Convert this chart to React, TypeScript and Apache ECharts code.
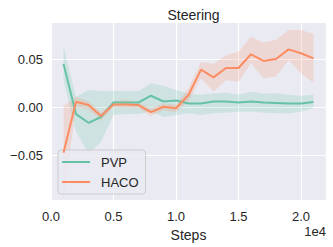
import React, { useEffect, useRef } from "react";
import * as echarts from "echarts";

const steps = [1000, 2000, 3000, 4000, 5000, 6000, 7000, 8000, 9000, 10000, 11000, 12000, 13000, 14000, 15000, 16000, 17000, 18000, 19000, 20000, 21000];

const pvpMean = [0.045, -0.007, -0.016, -0.010, 0.005, 0.005, 0.005, 0.012, 0.006, 0.007, 0.004, 0.004, 0.006, 0.006, 0.005, 0.006, 0.005, 0.0045, 0.004, 0.004, 0.0055];
const pvpUpper = [0.063, 0.011, 0.018, 0.017, 0.017, 0.017, 0.017, 0.025, 0.022, 0.018, 0.014, 0.013, 0.0145, 0.015, 0.013, 0.016, 0.014, 0.0145, 0.013, 0.012, 0.013];
const pvpLower = [0.028, -0.025, -0.048, -0.036, -0.008, -0.007, -0.007, -0.004, -0.010, -0.008, -0.006, -0.008, -0.006, -0.0056, -0.0045, -0.0045, -0.0056, -0.006, -0.006, -0.0045, -0.001];

const hacoMean = [-0.047, 0.0058, 0.0024, -0.009, 0.003, 0.003, 0.0024, -0.005, 0.0006, -0.001, 0.0127, 0.039, 0.031, 0.0407, 0.0407, 0.0549, 0.048, 0.050, 0.060, 0.056, 0.0507];
const hacoUpper = [0.001, 0.011, 0.006, -0.005, 0.006, 0.008, 0.005, -0.001, 0.004, 0.003, 0.020, 0.047, 0.045, 0.054, 0.0575, 0.073, 0.067, 0.070, 0.080, 0.080, 0.076];
const hacoLower = [-0.095, 0.0, -0.002, -0.014, 0.0, -0.001, -0.001, -0.009, -0.003, -0.005, 0.006, 0.030, 0.016, 0.028, 0.0265, 0.0455, 0.030, 0.032, 0.049, 0.035, 0.0255];

const GREEN = "#66c2a5";
const ORANGE = "#fc8d62";
const TEXT = "#262626";
const FONT = "'Liberation Sans', Arial, sans-serif";

function band(name: string, lower: number[], upper: number[], color: string) {
  const data = steps.map((s, i) => [s, lower[i], upper[i]]);
  return {
    name: name + "_band",
    type: "custom",
    silent: true,
    z: 1,
    encode: { x: 0, y: [1, 2] },
    data,
    renderItem: (params: any, api: any) => {
      if (params.dataIndex !== 0) return { type: "group", children: [] };
      const top = data.map((d) => api.coord([d[0], d[2]]));
      const bottom = data.map((d) => api.coord([d[0], d[1]])).reverse();
      return {
        type: "polygon",
        shape: { points: top.concat(bottom) },
        style: { fill: color, opacity: 0.2, stroke: "none" },
      };
    },
  };
}

export default function App() {
  const ref = useRef<HTMLDivElement>(null);
  useEffect(() => {
    if (!ref.current) return;
    const chart = echarts.init(ref.current, null, { renderer: "svg" });
    chart.setOption({
      animation: false,
      backgroundColor: "#ffffff",
      title: {
        text: "Steering",
        left: 188.5,
        top: 3,
        textAlign: "center",
        textStyle: { fontSize: 14, fontWeight: "normal", color: TEXT, fontFamily: FONT },
      },
      grid: { left: 51, right: 7, top: 22, bottom: 47, backgroundColor: "#eaeaf2", show: true, borderWidth: 0 },
      xAxis: {
        type: "value",
        min: 0,
        max: 22000,
        interval: 5000,
        name: "Steps",
        nameLocation: "middle",
        nameGap: 26,
        nameTextStyle: { fontSize: 14, color: TEXT, fontFamily: FONT },
        axisLine: { show: false },
        axisTick: { show: false },
        splitLine: { lineStyle: { color: "#ffffff", width: 1.2 } },
        axisLabel: {
          fontSize: 13,
          color: TEXT,
          fontFamily: FONT,
          margin: 10,
          showMaxLabel: false,
          formatter: (v: number) => (v / 10000).toFixed(1),
        },
      },
      yAxis: {
        type: "value",
        min: -0.0959,
        max: 0.0883,
        splitNumber: 4,
        axisLine: { show: false },
        axisTick: { show: false },
        splitLine: { lineStyle: { color: "#ffffff", width: 1.2 } },
        axisLabel: {
          fontSize: 13,
          color: TEXT,
          fontFamily: FONT,
          margin: 8,
          showMinLabel: false,
          showMaxLabel: false,
          formatter: (v: number) => {
            const r = Math.round(v * 100) / 100;
            if (Math.abs(r) < 1e-9) return "0.00";
            return (r < 0 ? "\u2212" : "") + Math.abs(r).toFixed(2);
          },
        },
      },
      legend: {
        orient: "vertical",
        left: 58,
        top: 150,
        data: ["PVP", "HACO"],
        icon: "rect",
        itemWidth: 28,
        itemHeight: 2,
        itemGap: 6,
        padding: [5, 7, 5, 4],
        backgroundColor: "rgba(234,234,242,0.8)",
        borderColor: "#cccccc",
        borderWidth: 1,
        borderRadius: 3,
        textStyle: { fontSize: 13, color: TEXT, fontFamily: FONT, lineHeight: 14, padding: [0, 0, 0, 6] },
      },
      graphic: [
        {
          type: "text",
          x: 326,
          y: 231.5,
          style: { text: "1e4", fontSize: 13, fill: TEXT, fontFamily: FONT, textAlign: "right", textVerticalAlign: "middle" },
        },
      ],
      series: [
        band("pvp", pvpLower, pvpUpper, GREEN),
        {
          name: "PVP",
          type: "line",
          data: steps.map((s, i) => [s, pvpMean[i]]),
          color: GREEN,
          lineStyle: { color: GREEN, width: 2 },
          symbol: "none",
          z: 3,
        },
        band("haco", hacoLower, hacoUpper, ORANGE),
        {
          name: "HACO",
          type: "line",
          data: steps.map((s, i) => [s, hacoMean[i]]),
          color: ORANGE,
          lineStyle: { color: ORANGE, width: 2 },
          symbol: "none",
          z: 4,
        },
      ],
    });
    return () => chart.dispose();
  }, []);
  return <div ref={ref} style={{ position: "fixed", left: 0, top: 0, width: 333, height: 247 }} />;
}
